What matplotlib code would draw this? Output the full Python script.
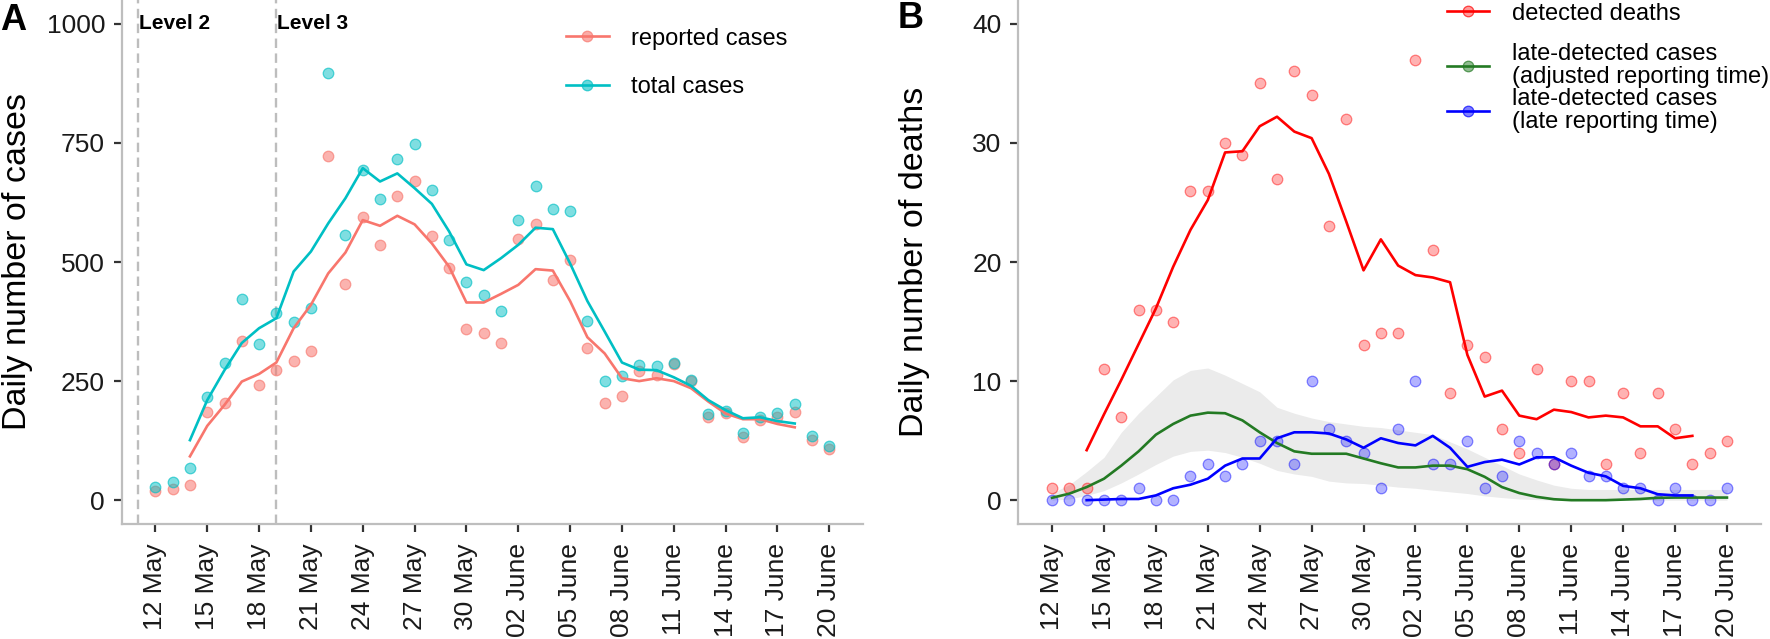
import matplotlib
matplotlib.use("Agg")
import matplotlib.pyplot as plt
from matplotlib.lines import Line2D
from matplotlib.colors import to_rgba
import numpy as np

plt.rcParams['font.family'] = ['Liberation Sans', 'DejaVu Sans']

# ---------------- data ----------------
# days: 12 May (0) ... 20 June (39)
tick_labels = ["12 May", "15 May", "18 May", "21 May", "24 May", "27 May", "30 May",
               "02 June", "05 June", "08 June", "11 June", "14 June", "17 June", "20 June"]
tick_days = [0, 3, 6, 9, 12, 15, 18, 21, 24, 27, 30, 33, 36, 39]
level_days = [-1, 7]
level_labels = ["Level 2", "Level 3"]

reported_pts = [20, 24, 32, 186, 205, 334, 242, 273, 292, 313,
                723, 453, 594, 536, 639, 670, 555, 487, 359, 350,
                329, 548, 580, 462, 504, 320, 205, 219, 271, 263,
                286, 250, 174, 184, 133, 168, 175, 185, 126, 107]
total_pts = [27, 39, 67, 217, 287, 422, 327, 392, 373, 403,
             896, 557, 693, 632, 716, 747, 651, 546, 459, 431,
             397, 588, 660, 611, 608, 377, 250, 261, 284, 282,
             289, 252, 181, 188, 140, 175, 182, 202, 135, 114]
# 7-day averages, 14 May (2) .. 18 June (37)
total_avg = [126, 210, 273, 330, 361, 382, 480, 522, 581, 634, 697, 669, 686, 655,
             622, 564, 495, 483, 508, 536, 572, 569, 497, 418, 354, 289, 274, 273,
             258, 240, 210, 189, 172, 174, 166, 161]
reported_avg = [92, 156, 200, 249, 265, 289, 361, 410, 476, 520, 588, 576, 597, 579,
                539, 490, 415, 415, 433, 452, 485, 482, 418, 342, 308, 256, 250, 256,
                250, 235, 207, 182, 170, 170, 160, 153]

deaths_pts = [1, 1, 1, 11, 7, 16, 16, 15, 26, 26,
              30, 29, 35, 27, 36, 34, 23, 32, 13, 14,
              14, 37, 21, 9, 13, 12, 6, 4, 11, 3,
              10, 10, 3, 9, 4, 9, 6, 3, 4, 5]
late_pts = [0, 0, 0, 0, 0, 1, 0, 0, 2, 3,
            2, 3, 5, 5, 3, 10, 6, 5, 4, 1,
            6, 10, 3, 3, 5, 1, 2, 5, 4, 3,
            4, 2, 2, 1, 1, 0, 1, 0, 0, 1]
deaths_avg = [4.2, 7.2, 10.1, 13.1, 16.1, 19.6, 22.7, 25.2, 29.2, 29.3, 31.4, 32.2,
              30.95, 30.4, 27.4, 23.4, 19.3, 21.9, 19.7, 18.9, 18.7, 18.3, 12.2, 8.7,
              9.2, 7.1, 6.8, 7.6, 7.4, 6.95, 7.1, 6.95, 6.2, 6.2, 5.2, 5.4]
late_avg = [0, 0.05, 0.1, 0.1, 0.4, 1.0, 1.3, 1.8, 2.9, 3.5, 3.5, 5.2, 5.7, 5.7,
            5.6, 5.1, 4.4, 5.2, 4.8, 4.6, 5.4, 4.4, 2.8, 3.2, 3.4, 3.0, 3.6, 3.6,
            2.9, 2.3, 2.0, 1.2, 1.0, 0.5, 0.4, 0.4]
adjusted_mean = [0.2, 0.55, 1.1, 1.8, 2.9, 4.1, 5.5, 6.4, 7.1, 7.35,
                 7.3, 6.7, 5.7, 4.8, 4.1, 3.9, 3.9, 3.9, 3.5, 3.1,
                 2.75, 2.75, 2.9, 2.9, 2.6, 1.96, 1.1, 0.6, 0.28, 0.08,
                 0, 0, 0, 0.05, 0.1, 0.2, 0.22, 0.22, 0.22, 0.22]
adjusted_upper = [0.6, 1.3, 2.4, 3.6, 5.7, 7.3, 8.7, 10.1, 10.9, 11.1,
                  10.5, 9.8, 9.1, 7.8, 7.3, 6.9, 6.6, 6.4, 6.2, 6.1,
                  5.9, 5.7, 5.5, 4.9, 4.3, 3.6, 2.9, 2.2, 1.7, 1.26,
                  1.0, 0.9, 0.9, 0.9, 0.9, 0.9, 0.9, 0.9, 0.9, 0.9]
adjusted_lower = [0, 0.1, 0.4, 0.8, 1.45, 2.2, 3.0, 3.7, 4.1, 4.2,
                  4.0, 3.6, 3.1, 2.5, 2.2, 2.0, 1.6, 1.45, 1.4, 1.26,
                  1.1, 1.0, 0.84, 0.7, 0.56, 0.36, 0.22, 0.1, 0.05, 0,
                  0, 0, 0, 0, 0, 0, 0, 0, 0, 0]

days = np.arange(len(reported_pts))
avg_days = np.arange(2, 2 + len(total_avg))

# ---------------- style ----------------
RED_A = "#F8766D"
TEAL = "#00BFC4"
RED_B = "#FF0000"
GREEN = "#237A23"
BLUE = "#0000FF"
AXIS_GREY = "#BEBEBE"
W, H = 1770, 639
LW = 1.9
MS = 7.6

fig = plt.figure(figsize=(W / 100, H / 100), dpi=100)
axA = fig.add_axes([121.7 / W, 1 - 524 / H, (863 - 121.7) / W, 524 / H])
axB = fig.add_axes([1018.3 / W, 1 - 524 / H, (1760.7 - 1018.3) / W, 524 / H])


def style_axes(ax):
    for s in ("top", "right"):
        ax.spines[s].set_visible(False)
    for s in ("left", "bottom"):
        ax.spines[s].set_color(AXIS_GREY)
        ax.spines[s].set_linewidth(1.6)
    ax.tick_params(axis="both", length=6, width=1.6, color="#333333", labelsize=19,
                   labelcolor="#1a1a1a")
    ax.tick_params(axis="y", pad=6)
    ax.tick_params(axis="x", pad=8)
    ax.set_xlim(-1.95, 40.95)
    ax.set_xticks(tick_days)
    ax.set_xticklabels(tick_labels, rotation=90, va="top", ha="center")


def pts(ax, x, y, color, fa, ea, z=2):
    ax.scatter(x, y, s=MS ** 2, facecolor=to_rgba(color, fa),
               edgecolor=to_rgba(color, ea), linewidth=0.9, zorder=z)


# ---------------- panel A ----------------
style_axes(axA)
axA.set_ylim(-50, 1050)
axA.set_yticks([0, 250, 500, 750, 1000])
for d, lab in zip(level_days, level_labels):
    axA.axvline(d, color="#BDBDBD", lw=1.7, linestyle=(0, (4.0, 2.3)), zorder=1)
    axA.text(d + 0.05, 1000, lab, fontsize=15, fontweight="bold", ha="left", va="center")
pts(axA, days, reported_pts, RED_A, 0.55, 0.65, 2)
pts(axA, days, total_pts, TEAL, 0.5, 0.65, 3)
axA.plot(avg_days, reported_avg, color=RED_A, lw=LW, zorder=4)
axA.plot(avg_days, total_avg, color=TEAL, lw=LW, zorder=4)
axA.set_ylabel("Daily number of cases", fontsize=24.5)
axA.yaxis.set_label_coords((33 - 121.7) / (863 - 121.7), 0.5)


def handle(color, fa):
    return Line2D([], [], color=color, lw=LW, marker="o", markersize=MS,
                  markerfacecolor=to_rgba(color, fa), markeredgecolor=to_rgba(color, 0.7),
                  markeredgewidth=0.9)


legA = axA.legend([handle(RED_A, 0.6), handle(TEAL, 0.6)], ["reported cases", "total cases"],
                  loc="center left", bbox_to_anchor=(565.7 / W, 1 - 63 / H),
                  bbox_transform=fig.transFigure, frameon=False, fontsize=17,
                  borderpad=0, borderaxespad=0, handlelength=1.82, handletextpad=0.96,
                  labelspacing=1.14)

# ---------------- panel B ----------------
style_axes(axB)
axB.set_ylim(-2, 42)
axB.set_yticks([0, 10, 20, 30, 40])
axB.fill_between(days, adjusted_lower, adjusted_upper, color="#EBEBEB", lw=0, zorder=1)
pts(axB, days, deaths_pts, RED_B, 0.3, 0.45, 2)
pts(axB, days, late_pts, BLUE, 0.3, 0.45, 3)
axB.plot(days, adjusted_mean, color=GREEN, lw=LW, zorder=4)
axB.plot(avg_days, late_avg, color=BLUE, lw=LW, zorder=4)
axB.plot(avg_days, deaths_avg, color=RED_B, lw=LW, zorder=5)
axB.set_ylabel("Daily number of deaths", fontsize=24.5)
axB.yaxis.set_label_coords((930 - 1018.3) / (1760.7 - 1018.3), 0.5)

legB1 = axB.legend([handle(RED_B, 0.4)], ["detected deaths"],
                   loc="center left", bbox_to_anchor=(1446.7 / W, 1 - 13.5 / H),
                   bbox_transform=fig.transFigure, frameon=False, fontsize=17,
                   borderpad=0, borderaxespad=0, handlelength=1.8, handletextpad=0.97)
axB.add_artist(legB1)
legB2 = axB.legend([handle(GREEN, 0.5), handle(BLUE, 0.5)],
                   ["late-detected cases\n(adjusted reporting time)",
                    "late-detected cases\n(late reporting time)"],
                   loc="center left", bbox_to_anchor=(1446.7 / W, 1 - 88.2 / H),
                   bbox_transform=fig.transFigure, frameon=False, fontsize=17,
                   borderpad=0, borderaxespad=0, handlelength=1.8, handletextpad=0.97,
                   labelspacing=0.0)
for t in legB2.get_texts():
    t.set_linespacing(1.05)

# panel letters
fig.text(0 / W, 1 - 20.5 / H, "A", fontsize=26, fontweight="bold", ha="left", va="center")
fig.text(898 / W, 1 - 19 / H, "B", fontsize=26, fontweight="bold", ha="left", va="center")

fig.savefig("out.png", dpi=100)
